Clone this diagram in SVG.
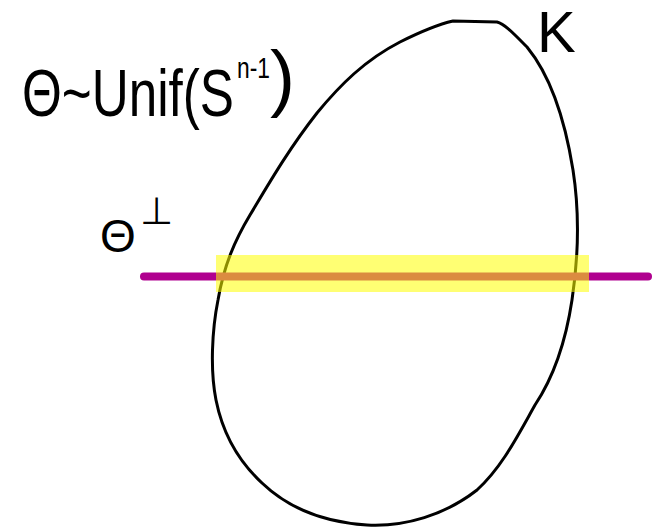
<svg xmlns="http://www.w3.org/2000/svg" width="652" height="530" viewBox="0 0 652 530">
<style>
.hand{font-family:"Liberation Sans","DejaVu Sans",sans-serif;fill:#000;}
</style>
<rect width="652" height="530" fill="#fff"/>
<g id="body-K">
<path d="M 453 21 L 497 22 C 505 24, 515 35, 527 47 C 550 75, 565 120, 573 170 C 580 215, 578 260, 572 300 C 566 340, 555 375, 535 405 C 517 437, 502 467, 477 490 C 445 515, 405 527, 367 525 C 320 522, 285 505, 262 483 C 235 458, 222 430, 216 400 C 210 370, 212 330, 218 300 C 224 265, 235 240, 250 215 C 268 185, 288 150, 317 113 C 340 85, 365 60, 400 42 C 420 32, 440 24, 453 21 Z" fill="none" stroke="#000" stroke-width="3" stroke-linejoin="round"/>
</g>
<g id="line-theta-perp">
<line x1="144" y1="276.5" x2="648" y2="276.5" stroke="#b0008f" stroke-width="8" stroke-linecap="round"/>
</g>
<g id="highlight">
<rect x="216" y="255" width="373" height="37" fill="#ffff00" fill-opacity="0.55"/>
</g>
<g id="label-dist">
<text class="hand" transform="translate(22,116) scale(0.776,1)" font-size="66">Θ~Unif(S</text>
<text class="hand" transform="translate(237,78) scale(0.76,1)" font-size="30">n-1</text>
<text class="hand" x="270" y="103" font-size="75">)</text>
</g>
<g id="label-perp">
<text class="hand" x="100" y="252" font-size="46">Θ</text>
<text class="hand" x="140" y="224" font-size="38">⊥</text>
</g>
<g id="label-K">
<text class="hand" x="537" y="52" font-size="58">K</text>
</g>
</svg>
